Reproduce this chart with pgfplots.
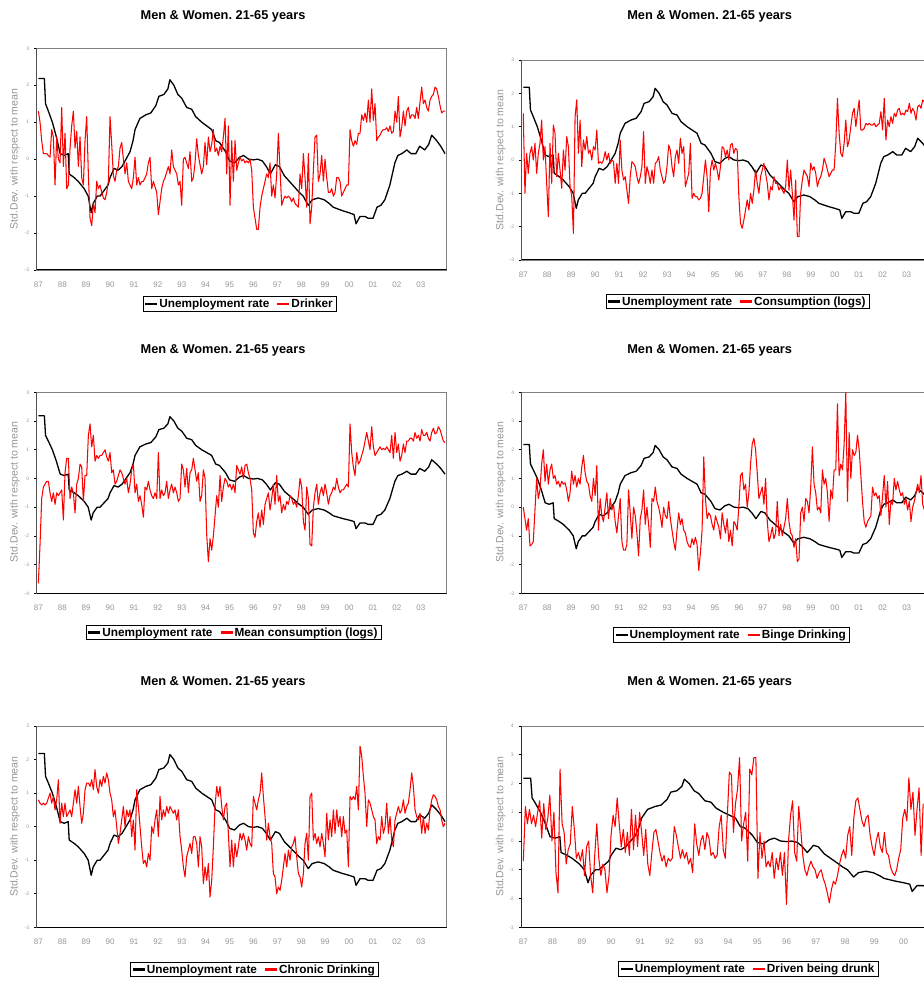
\documentclass[border=0pt]{standalone}
\usepackage{pgfplots}
\pgfplotsset{compat=1.18}
\usepackage{pgfplotstable}
\usepackage{fontspec}
\setmainfont{Liberation Sans}

\pgfplotstableread{
k u
0 2.18
3.6 2.18
4.3 1.5
6.0 1.3
8.4 1.0
10.8 0.6
13.1 0.15
15.5 0.1
17.9 0.15
18.5 -0.4
21.5 -0.5
23.9 -0.6
27.5 -0.8
29.9 -1.0
31.7 -1.45
32.9 -1.2
35.3 -1.0
37.0 -1.0
39.4 -0.85
41.8 -0.7
43.0 -0.5
45.4 -0.25
47.8 -0.3
50.2 -0.2
52.6 0.0
55.0 0.2
56.8 0.5
58.0 0.8
60.9 1.1
64.5 1.2
67.5 1.25
70.5 1.45
72.3 1.7
75.3 1.75
77.7 1.9
78.9 2.15
81.3 2.0
83.7 1.75
86.0 1.65
89.0 1.4
92.0 1.35
94.4 1.15
98.0 1.0
101.0 0.9
104.0 0.8
106.4 0.5
108.7 0.45
112.3 0.2
114.7 -0.05
117.7 -0.1
120.7 0.05
123.1 0.1
126.1 0.0
129.1 -0.02
131.5 0.0
134.4 -0.05
136.8 -0.2
139.2 -0.4
142.2 -0.15
144.6 -0.2
147.6 -0.45
150.6 -0.6
153.6 -0.75
156.5 -0.9
158.9 -1.0
161.9 -1.25
164.3 -1.1
167.9 -1.05
171.5 -1.1
174.5 -1.2
176.9 -1.3
179.8 -1.35
182.8 -1.4
186.4 -1.45
189.4 -1.5
190.6 -1.75
193.0 -1.55
196.0 -1.55
197.8 -1.6
200.8 -1.6
203.2 -1.3
205.5 -1.25
207.9 -1.1
210.9 -0.7
213.9 -0.1
215.7 0.1
218.1 0.15
221.1 0.25
223.5 0.15
226.5 0.15
228.8 0.35
231.8 0.25
234.2 0.4
236.0 0.65
239.0 0.5
241.4 0.35
244.0 0.15
}\unemp

\pgfplotstableread{
k dr co me bi ch dd
0 1.3 1.4 -3.65 0.0 0.8 -0.7
1 1.0 -1.0 -2.3 -0.4 0.7 1.2
2 0.5 0.2 -0.7 -0.8 0.65 0.6
3 0.15 -0.4 -0.3 -0.4 0.7 1.1
4 0.15 0.2 -0.2 -1.35 0.65 0.6
5 0.15 0.4 -0.1 -1.3 0.7 0.9
6 0.1 0.0 -0.1 -1.2 0.85 0.5
7 0.05 0.5 -0.5 -0.1 1.0 1.0
8 0.8 -0.4 -0.8 1.0 0.7 1.4
9 0.6 0.2 -0.5 0.3 0.9 0.1
10 -0.7 0.5 -0.9 0.6 0.5 1.3
11 0.6 1.2 -0.5 1.5 0.8 0.4
12 0.0 0.0 -0.6 2.0 1.4 0.8
13 -0.1 0.4 -0.5 0.9 0.1 1.6
14 1.4 -0.7 -0.4 1.5 0.7 0.0
15 -0.2 -1.7 -1.45 0.8 0.3 1.0
16 0.7 0.5 0.2 1.3 0.7 -1.1
17 -0.8 -0.7 0.7 1.5 0.3 -1.8
18 -0.7 1.05 0.7 1.0 0.4 2.5
19 0.3 0.8 -0.7 1.1 0.5 0.6
20 0.9 -0.5 -0.3 0.8 0.3 0.3
21 1.3 0.2 -0.5 0.9 0.7 -0.8
22 0.3 -0.3 -1.2 0.7 1.1 -0.3
23 0.75 -0.85 -0.2 0.9 0.7 -0.1
24 -0.2 0.3 0.0 0.8 1.2 1.2
25 0.6 -0.3 0.5 0.85 0.6 0.4
26 -0.5 0.7 0.4 0.6 0.1 -0.6
27 -0.7 0.4 -0.8 0.2 0.4 -0.4
28 0.5 -0.8 0.1 0.5 1.1 -0.7
29 1.15 -1.1 0.1 1.25 1.3 -0.3
30 -0.4 -2.2 1.5 0.8 1.3 -1.2
31 -1.6 1.3 1.9 1.1 1.2 -0.2
32 -1.8 1.8 1.1 0.7 1.4 0.0
33 -1.2 0.2 1.5 1.0 1.1 -1.2
34 -1.45 1.2 0.6 0.8 1.7 -1.8
35 -0.6 -0.2 0.8 1.4 1.2 -0.5
36 -0.8 0.6 0.7 1.8 1.0 0.6
37 -0.7 0.3 0.8 1.2 1.4 -0.6
38 -0.9 0.7 0.8 0.9 1.2 -1.2
39 -1.05 0.2 0.9 0.8 1.5 -0.8
40 -1.1 0.3 1.0 0.4 1.3 -1.0
41 -0.9 0.0 0.75 0.2 1.6 -1.8
42 -0.6 0.4 0.6 1.0 1.4 -1.2
43 1.15 0.3 0.9 0.4 1.0 0.2
44 0.4 0.9 0.2 1.45 0.8 0.9
45 -0.45 -0.1 0.3 -0.8 0.3 0.5
46 -0.6 -0.05 -0.2 0.3 0.5 1.5
47 -0.3 -0.1 -0.1 -0.3 0.0 0.6
48 -0.2 0.0 0.1 -0.5 -0.5 -0.2
49 0.3 0.25 0.3 0.0 -0.2 0.4
50 0.45 0.0 0.2 0.5 0.2 -0.4
51 0.0 0.2 0.0 -0.4 0.6 0.3
52 -0.4 -0.1 -0.2 0.3 0.0 -0.5
53 -0.1 0.0 0.0 -0.1 0.5 1.1
54 -0.6 -0.05 -0.5 0.1 0.3 -0.3
55 -0.7 -0.7 -0.2 -0.5 0.5 0.9
56 -0.8 -0.1 0.3 -0.9 -0.3 -0.2
57 -0.5 -0.7 0.5 -0.3 0.2 1.0
58 0.05 0.6 -0.5 0.3 -0.7 0.3
59 -0.7 -0.3 -0.2 -1.2 1.1 -0.5
60 -0.5 -0.6 -0.8 -1.5 0.6 0.4
61 -0.7 -0.5 -0.6 -1.5 0.0 -0.8
62 -0.6 -0.9 -0.9 -1.3 -0.6 -1.2
63 -0.6 -1.3 -1.35 0.6 -1.1 -0.4
64 -0.5 -0.5 -0.3 -0.2 -1.0 0.3
65 -0.4 -0.05 -0.4 -1.1 -1.2 0.4
66 -0.1 -0.1 -0.1 0.0 -0.8 0.0
67 0.05 -0.2 -0.4 -0.3 -1.0 -0.4
68 -0.8 -0.5 -0.6 -0.9 0.0 -0.7
69 -0.6 -0.7 -0.7 -1.7 -0.2 -0.5
70 -0.75 -0.5 -0.5 -0.4 0.2 -0.9
71 -0.9 -0.2 -0.7 -0.1 0.5 -0.6
72 -1.5 0.85 0.9 0.6 -0.3 -0.7
73 -1.15 -0.7 -0.7 -0.6 0.9 -0.6
74 -0.8 -0.2 -0.4 0.0 0.2 0.5
75 -0.6 -0.4 -0.6 -0.6 0.5 0.2
76 -0.5 -0.7 -0.5 -1.4 0.3 -0.2
77 -0.35 -0.3 -0.1 0.3 0.6 -0.6
78 -0.2 -0.7 -0.7 0.2 0.4 -0.3
79 -0.4 -0.1 -0.4 0.7 0.6 -0.6
80 0.25 -0.05 -0.2 0.2 0.5 -0.4
81 -0.2 0.1 -0.5 0.0 0.4 -0.8
82 -0.3 -0.3 -0.3 -0.3 0.5 -0.6
83 -0.4 -0.5 -0.5 -0.7 0.2 -1.1
84 -0.7 -0.7 -0.8 0.0 0.5 0.6
85 -0.6 -0.6 -0.7 -0.3 -0.3 -0.1
86 -1.25 -0.2 0.5 -0.4 -0.7 -0.5
87 0.0 0.45 0.3 0.2 -1.2 0.0
88 0.05 0.3 -0.3 -0.4 -1.5 0.2
89 -0.1 -0.2 0.35 -0.8 -0.9 -0.3
90 -0.25 -0.5 -0.5 -1.2 -0.7 0.3
91 0.2 0.1 0.2 -1.5 -0.5 0.1
92 -0.6 0.3 0.3 -0.8 -0.8 -0.5
93 -0.5 -0.1 0.7 -0.2 -0.3 -0.4
94 -0.1 0.65 0.3 -0.6 -0.3 -0.6
95 0.55 0.2 -0.1 -0.4 -0.5 -0.5
96 0.1 0.4 0.2 -0.8 -1.2 0.5
97 -0.15 -0.8 -0.8 -0.9 -0.3 0.9
98 -0.4 -0.6 -0.6 -1.2 -0.6 -0.3
99 -0.2 -0.4 0.3 -1.35 -1.7 -0.6
100 0.45 0.5 0.0 -1.4 -1.2 0.9
101 -0.15 -1.15 -1.95 -1.1 -1.6 2.4
102 0.6 -1.0 -2.9 -1.3 -1.1 2.3
103 0.2 -1.1 -2.1 -1.05 -2.1 0.3
104 0.4 -1.1 -2.5 -1.3 -1.6 1.3
105 0.8 -1.2 -2.0 -2.2 -0.6 1.8
106 0.2 -1.15 -1.3 -1.6 0.6 2.9
107 0.3 -1.0 -0.6 -0.8 1.2 0.0
108 0.1 -0.5 -1.0 1.75 0.9 0.6
109 0.35 0.0 0.1 0.3 1.2 1.0
110 0.2 -0.5 -0.8 -0.4 0.6 -0.7
111 0.6 -1.55 -0.3 -0.2 0.2 2.5
112 1.1 -0.3 0.0 -0.3 0.6 2.3
113 -0.4 0.0 -0.1 -0.6 0.7 2.9
114 0.9 -0.3 -0.3 -0.8 -0.2 2.9
115 -1.25 -0.1 -0.2 -0.3 -1.2 -1.3
116 0.5 -0.3 -0.4 -0.5 -0.4 0.3
117 -0.6 -0.6 -0.2 -0.7 -1.2 -0.6
118 0.5 -0.2 -0.5 -1.1 -0.5 0.0
119 -0.3 0.4 0.45 -0.2 -0.9 -0.9
120 -0.1 0.35 0.3 -0.6 -0.6 -0.7
121 0.05 0.1 0.15 -0.9 -0.2 -0.9
122 -0.05 0.3 0.4 -0.4 -0.4 -0.4
123 0.0 0.0 0.0 -1.2 -0.2 -1.3
124 -0.1 0.45 0.45 -0.8 -0.4 -0.6
125 -0.05 0.5 0.5 -1.35 -0.7 -1.0
126 -0.1 0.2 0.2 -0.5 -0.3 -0.4
127 0.0 0.35 0.0 -0.6 -0.5 -1.2
128 -0.3 0.3 -0.4 -0.8 -0.6 -0.4
129 -1.3 -1.1 -1.9 0.0 0.9 -2.2
130 -1.6 -1.9 -2.05 1.1 0.7 0.0
131 -1.9 -2.05 -1.5 1.2 0.5 0.9
132 -1.9 -1.8 -1.2 0.6 0.8 1.4
133 -1.3 -1.5 -1.7 0.8 1.0 -0.4
134 -1.0 -1.2 -1.1 0.0 1.6 -0.7
135 -0.8 -1.5 -1.6 0.5 0.9 1.2
136 -0.6 -1.0 -0.9 1.5 0.3 0.4
137 -0.4 -1.3 -0.7 2.2 -0.4 -0.5
138 -0.5 -0.9 -0.5 2.4 0.1 -1.0
139 -0.1 -0.3 -1.1 2.0 -0.3 -1.2
140 -1.0 -0.7 -0.7 1.2 -0.5 -0.9
141 -0.7 -1.0 -0.2 0.3 -1.4 -0.7
142 -1.05 -0.5 -0.9 0.5 -1.5 -0.9
143 -0.4 -0.3 0.1 0.7 -2.0 -1.0
144 0.7 -0.1 -0.8 0.1 -1.8 -1.3
145 -0.3 -0.4 -0.6 1.0 -1.9 -1.1
146 -1.25 -0.7 -1.2 -0.5 -1.6 -1.0
147 -1.1 -1.2 -0.9 -1.2 -1.2 -1.3
148 -1.0 -0.8 -1.1 -1.0 -0.8 -1.5
149 -1.05 -0.9 -0.8 -0.7 -1.2 -1.8
150 -1.0 -0.5 -0.9 -1.1 -0.7 -2.15
151 -1.05 -0.7 -0.6 -0.9 -1.0 -1.7
152 -1.15 -0.7 -0.7 0.2 -0.6 -1.4
153 -1.05 -0.9 -0.9 -1.0 -0.5 -1.5
154 -1.2 -0.8 -0.8 -0.6 -0.3 -1.2
155 -1.25 -0.9 -1.0 -1.0 -0.9 -0.8
156 -1.3 -1.0 -0.6 -0.7 -1.4 -0.5
157 -0.4 -0.8 0.0 -0.4 -1.5 -0.3
158 -0.8 0.0 -0.3 0.3 -1.8 -0.6
159 0.15 -0.9 -1.5 -0.5 -1.4 0.2
160 -0.5 -0.3 -1.8 -0.9 -0.5 0.5
161 -1.3 -1.0 -0.3 -1.0 -0.2 -0.5
162 0.15 -1.8 -0.7 -1.4 -1.0 0.8
163 -1.75 -0.6 -2.3 -1.1 0.9 1.4
164 -1.3 -2.3 -2.35 -1.9 1.0 1.5
165 -0.3 -2.3 -1.0 -1.8 -0.4 1.1
166 0.6 -1.0 -0.5 -0.2 -0.2 0.7
167 0.65 -0.6 -0.2 0.0 -0.5 0.5
168 -0.6 -0.3 -0.9 -0.5 -0.3 0.8
169 -0.4 -0.4 -0.5 0.3 -0.6 0.9
170 0.1 -0.5 -0.3 0.2 -0.2 0.2
171 -0.6 -0.8 -0.6 -0.2 -0.5 -0.2
172 0.0 -0.1 -0.2 0.7 -0.9 -0.5
173 -0.5 -0.3 -0.5 2.1 0.4 0.0
174 -0.9 -0.2 -0.9 0.8 -0.4 0.3
175 -0.9 -0.4 -0.6 0.5 0.2 -0.2
176 -0.8 -0.8 -0.5 -0.1 -0.3 -0.4
177 -1.0 -0.6 -0.3 0.0 0.5 0.3
178 -0.9 -0.5 -0.4 -0.2 -0.2 -0.4
179 -0.5 -0.3 0.0 1.3 0.5 -0.5
180 -0.5 0.05 -0.3 0.8 0.0 -0.9
181 -0.6 -0.1 -0.5 1.0 0.3 -1.1
182 -1.0 -0.3 -0.4 0.5 -0.3 -1.2
183 -0.9 -0.5 -0.4 -0.5 0.3 -1.0
184 -0.8 -0.4 -0.3 0.6 -0.2 -0.6
185 -0.7 -0.3 -0.2 0.3 -0.1 -0.3
186 -0.7 -0.3 -0.3 1.3 -1.2 0.8
187 0.8 0.5 1.9 1.3 0.9 1.1
188 0.5 1.85 0.9 3.6 0.8 0.7
189 0.35 0.8 0.4 1.1 0.9 2.2
190 0.5 0.2 0.1 1.5 0.8 1.1
191 0.4 0.1 0.9 1.3 1.2 1.7
192 0.7 0.5 0.5 2.2 0.5 0.2
193 0.7 1.2 0.6 4.0 2.4 1.1
194 1.2 0.4 0.8 0.2 2.1 1.85
195 1.05 0.6 1.0 2.6 1.5 -0.5
196 1.25 1.0 1.3 1.0 1.0 1.3
197 1.0 1.4 1.6 2.0 0.0 nan
198 1.6 1.55 1.3 1.8 0.8 nan
199 1.0 1.0 1.0 1.9 0.7 nan
200 1.9 1.4 1.8 2.5 0.5 nan
201 1.05 1.8 1.1 2.0 0.3 nan
202 1.5 0.9 0.8 1.1 0.2 nan
203 0.5 0.9 0.9 0.2 -0.5 nan
204 0.6 0.95 1.0 -0.5 -0.3 nan
205 0.65 1.1 1.1 -0.7 -0.4 nan
206 0.75 1.05 1.0 -0.5 0.3 nan
207 0.8 1.1 1.05 -0.4 -0.2 nan
208 0.8 1.05 1.0 -0.3 0.0 nan
209 0.85 1.05 1.1 0.7 0.7 nan
210 0.75 1.1 1.0 0.4 -0.2 nan
211 0.9 1.0 0.9 0.5 0.3 nan
212 0.7 1.05 1.5 0.3 -0.4 nan
213 0.75 1.1 0.7 0.4 -0.6 nan
214 1.3 1.45 1.6 -0.3 0.2 nan
215 1.0 0.9 0.9 0.4 0.4 nan
216 1.7 1.85 1.2 1.1 0.6 nan
217 0.6 0.6 0.6 0.0 0.4 nan
218 0.85 1.2 0.8 0.9 0.5 nan
219 1.3 1.0 1.2 -0.6 0.8 nan
220 0.9 1.3 0.9 0.2 0.4 nan
221 1.3 1.1 1.3 0.1 0.6 nan
222 1.4 1.4 1.3 1.0 0.7 nan
223 1.1 1.3 1.4 0.6 1.1 nan
224 1.2 1.5 1.4 0.9 1.6 nan
225 1.2 1.55 1.3 0.6 1.2 nan
226 1.1 1.35 1.6 0.4 0.5 nan
227 1.4 1.4 1.4 0.5 0.3 nan
228 1.1 1.35 1.5 0.1 0.2 nan
229 1.55 1.5 1.3 0.3 0.4 nan
230 1.95 1.45 1.7 -0.1 -0.2 nan
231 1.5 1.7 1.5 0.2 0.3 nan
232 1.6 1.4 1.5 -0.5 -0.2 nan
233 1.4 1.55 1.6 0.0 0.1 nan
234 1.3 1.45 1.4 0.2 -0.1 nan
235 1.6 1.2 1.3 0.5 0.5 nan
236 1.7 1.6 1.6 0.8 0.8 nan
237 1.75 1.65 1.75 0.5 0.95 nan
238 1.95 1.55 1.55 1.1 0.9 nan
239 1.9 1.8 1.6 0.1 0.8 nan
240 1.7 1.75 1.8 -0.1 0.6 nan
241 1.45 nan 1.7 nan 0.5 nan
242 1.25 nan 1.5 nan 0.2 nan
243 1.3 nan 1.3 nan 0.0 nan
244 1.3 nan 1.25 nan 0.1 nan
}\reds

\definecolor{axgray}{RGB}{128,128,128}
\definecolor{labgray}{RGB}{150,150,150}

\pgfplotsset{
  panel/.style={
    scale only axis, anchor=south west, clip=true,
    xmin=-1, xmax=245,
    xtick={0,14.34,28.68,43.02,57.36,71.7,86.04,100.38,114.72,129.06,143.4,157.74,172.08,186.42,200.76,215.1,229.44},
    xticklabels={87,88,89,90,91,92,93,94,95,96,97,98,99,00,01,02,03},
    ytick distance=1,
    axis line style={draw=axgray, line width=0.6pt},
    tick align=outside, tick pos=left,
    major tick length=2.5pt,
    xtick style={draw=none},
    ytick style={black, line width=0.7pt},
    xticklabel style={font=\fontsize{8}{9}\selectfont, text=labgray, yshift=-6pt},
    yticklabel style={font=\fontsize{5}{6}\selectfont, text=labgray, xshift=-1.5pt},
    /pgf/number format/assume math mode=true,
    legend columns=2,
    legend style={draw=black, line width=1pt, inner xsep=2pt, inner ysep=0.3pt,
      anchor=center, font=\bfseries\fontsize{11.8}{13}\selectfont,
      /tikz/every even column/.append style={column sep=6pt}, cells={anchor=west}},
    legend image code/.code={\fill[#1, draw=none] (0pt,-1.3pt) rectangle (12pt,1.3pt);},
  },
  unline/.style={black, line width=1.3pt, line join=round},
  redline/.style={red, line width=1.05pt, line join=round},
}

\begin{document}
\begin{tikzpicture}[x=1pt,y=1pt]
\useasboundingbox (0,0) rectangle (924,983);
\clip (0,0) rectangle (924,983);

% Panel 1
\begin{axis}[panel, at={(36.7pt,713pt)}, width=410pt, height=221.7pt, ymin=-3, ymax=3,
  legend style={at={(0.496,-0.153)}}]
\addplot[unline] table[x=k,y=u]{\unemp};
\addplot[redline] table[x=k,y=dr]{\reds};
\legend{Unemployment rate,Drinker}
\draw[black, line width=1.3pt] (rel axis cs:0,1) -- (rel axis cs:0,0) -- (rel axis cs:1,0);
\end{axis}

% Panel 2
\begin{axis}[panel, at={(521.6pt,723pt)}, width=411.1pt, height=200pt, ymin=-3, ymax=3,
  legend style={at={(0.526,-0.2075)}}]
\addplot[unline] table[x=k,y=u]{\unemp};
\addplot[redline] table[x=k,y=co]{\reds};
\legend{Unemployment rate,Consumption (logs)}
\draw[black, line width=1.3pt] (rel axis cs:0,1) -- (rel axis cs:0,0) -- (rel axis cs:1,0);
\end{axis}

% Panel 3
\begin{axis}[panel, at={(36.7pt,389.7pt)}, width=410pt, height=201pt, ymin=-4, ymax=3,
  legend style={at={(0.481,-0.195)}}]
\addplot[unline] table[x=k,y=u]{\unemp};
\addplot[redline] table[x=k,y=me]{\reds};
\legend{Unemployment rate,Mean consumption (logs)}
\draw[black, line width=1.3pt] (rel axis cs:0,1) -- (rel axis cs:0,0) -- (rel axis cs:1,0);
\end{axis}

% Panel 4
\begin{axis}[panel, at={(521.6pt,389.7pt)}, width=411.1pt, height=201pt, ymin=-3, ymax=4,
  legend style={at={(0.511,-0.207)}}]
\addplot[unline] table[x=k,y=u]{\unemp};
\addplot[redline] table[x=k,y=bi]{\reds};
\legend{Unemployment rate,Binge Drinking}
\draw[black, line width=1.3pt] (rel axis cs:0,1) -- (rel axis cs:0,0) -- (rel axis cs:1,0);
\end{axis}

% Panel 5
\begin{axis}[panel, at={(36.7pt,55.7pt)}, width=410pt, height=201.3pt, ymin=-3, ymax=3,
  legend style={at={(0.532,-0.21)}}]
\addplot[unline] table[x=k,y=u]{\unemp};
\addplot[redline] table[x=k,y=ch]{\reds};
\legend{Unemployment rate,Chronic Drinking}
\draw[black, line width=1.3pt] (rel axis cs:0,1) -- (rel axis cs:0,0) -- (rel axis cs:1,0);
\end{axis}

% Panel 6 (wider, cut at the right edge as in the source)
\begin{axis}[panel, at={(521.3pt,55.7pt)}, width=501.8pt, height=201.3pt, ymin=-3, ymax=4,
  xtick={0,14.34,28.68,43.02,57.36,71.7,86.04,100.38,114.72,129.06,143.4,157.74,172.08,186.42},
  xticklabels={87,88,89,90,91,92,93,94,95,96,97,98,99,00},
  legend style={at={(0.453,-0.207)}}]
\addplot[unline] table[x=k,y=u]{\unemp};
\addplot[redline] table[x=k,y=dd]{\reds};
\legend{Unemployment rate,Driven being drunk}
\draw[black, line width=1.3pt] (rel axis cs:0,1) -- (rel axis cs:0,0) -- (rel axis cs:1,0);
\end{axis}

% Titles
\foreach \tx/\ty in {223/967, 709.7/967, 223/633, 709.7/633, 223/301, 709.7/301}{
  \node[font=\bfseries\fontsize{12.8}{14}\selectfont] at (\tx,\ty) {Men \& Women.\ 21-65 years};
}
% Y labels
\foreach \lx/\ly in {15/824, 500.7/823, 15/491, 500.7/491, 15/156.3, 500.7/156.3}{
  \node[rotate=90, font=\fontsize{10.5}{12}\selectfont, text=labgray] at (\lx,\ly) {Std.Dev. with respect to mean};
}
\end{tikzpicture}
\end{document}
